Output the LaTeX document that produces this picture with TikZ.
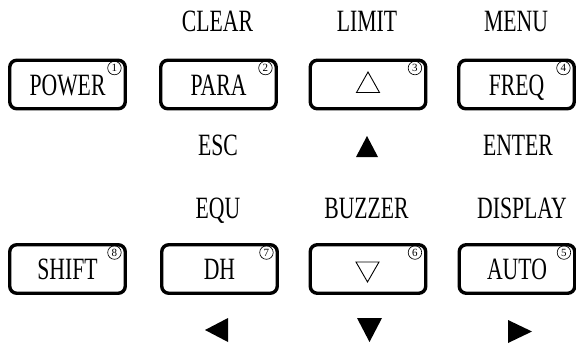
\documentclass[tikz,border=0pt]{standalone}
\usepackage{fontspec}
\setmainfont{Liberation Serif}[FakeStretch=0.7]
\newfontfamily\digitfont{Liberation Serif}
\begin{document}
\begin{tikzpicture}[x=1pt,y=-1pt,
  key/.style={draw,line width=3.4pt,rounded corners=7pt,minimum width=115.5pt,minimum height=48.5pt,inner sep=0pt,text height=21pt,text depth=0pt,font=\fontsize{31}{31}\selectfont},
  lbl/.style={anchor=base,inner sep=0pt,font=\fontsize{31}{31}\selectfont},
  num/.style={draw,circle,line width=0.65pt,minimum size=13.5pt,inner sep=0pt,font=\digitfont\fontsize{11}{11}\selectfont},
  hollow/.style={line width=0.9pt,line join=miter},
  solid/.style={fill=black,draw=none}
  ]
\useasboundingbox (0,0) rectangle (576,343);
% keys
\node[key] (power) at (67.5,84.5) {POWER};
\node[key] (para) at (218.5,84.5) {PARA};
\node[key] (limit) at (368,84.5) {};
\node[key] (freq) at (516.5,84.5) {FREQ};
\node[key] (shift) at (67.5,269) {SHIFT};
\node[key] (dh) at (219.5,269) {DH};
\node[key] (buzz) at (368,269) {};
\node[key] (auto) at (517,269) {AUTO};
% circled numbers
\node[num] at ([xshift=-12.5pt,yshift=-9.5pt]power.north east) {1};
\node[num] at ([xshift=-12.5pt,yshift=-9.5pt]para.north east) {2};
\node[num] at ([xshift=-12.5pt,yshift=-9.5pt]limit.north east) {3};
\node[num] at ([xshift=-12.5pt,yshift=-9.5pt]freq.north east) {4};
\node[num] at ([xshift=-12.5pt,yshift=-9.5pt]auto.north east) {5};
\node[num] at ([xshift=-12.5pt,yshift=-9.5pt]buzz.north east) {6};
\node[num] at ([xshift=-12.5pt,yshift=-9.5pt]dh.north east) {7};
\node[num] at ([xshift=-12.5pt,yshift=-9.5pt]shift.north east) {8};
% triangles in keys
\draw[hollow] ([shift={(0,-12.5)}]limit.center) -- ([shift={(11.5,8)}]limit.center) -- ([shift={(-11.5,8)}]limit.center) -- cycle;
\draw[hollow] ([shift={(-0.5,13)}]buzz.center) -- ([shift={(11,-7)}]buzz.center) -- ([shift={(-12,-7)}]buzz.center) -- cycle;
% labels
\node[lbl] (clear) at (217.5,31) {CLEAR};
\node[lbl] (limt) at (367,31) {LIMIT};
\node[lbl] (menu) at (516,31) {MENU};
\node[lbl] (esc) at (218,155) {ESC};
\node[lbl] (enter) at (518,155) {ENTER};
\node[lbl] (equ) at (218,218) {EQU};
\node[lbl] (buzzer) at (366.5,218) {BUZZER};
\node[lbl] (display) at (522,218) {DISPLAY};
% filled arrows
\fill[solid] (367,136) -- (378,157) -- (356,157) -- cycle;
\fill[solid] (205,330) -- (228,318) -- (228,342) -- cycle;
\fill[solid] (357,318) -- (382,318) -- (369.5,342) -- cycle;
\fill[solid] (532,331.5) -- (508,320) -- (508,343) -- cycle;
\end{tikzpicture}
\end{document}
